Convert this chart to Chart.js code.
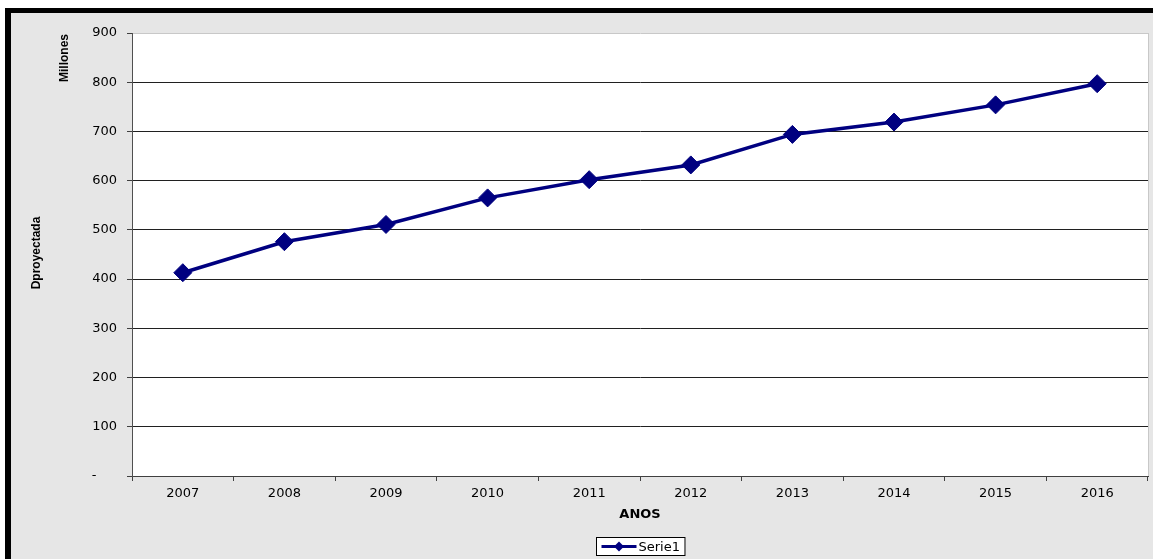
<!DOCTYPE html>
<html>
<head>
<meta charset="utf-8">
<script src="https://cdn.jsdelivr.net/npm/chart.js@4"></script>
<style>
  html, body { margin: 0; padding: 0; background: #fff; }
  #frame {
    position: absolute; left: 5px; top: 8px; right: 0; bottom: 0;
    border-left: 6px solid #000; border-top: 5px solid #000;
    background: #e6e6e6;
  }
  #wrap { position: absolute; left: 0; top: 0; width: 1153px; height: 559px; }
</style>
</head>
<body>
<div id="frame"></div>
<div id="wrap"><canvas id="chart" width="1153" height="559"></canvas></div>
<script>
const years = ["2007", "2008", "2009", "2010", "2011", "2012", "2013", "2014", "2015", "2016"];
const serie1 = [413, 476, 511, 565, 602, 632, 694, 719, 754, 797];
const seriesName = "Serie1";
const xTitle = "ANOS";
const yTitle = "Dproyectada";
const yUnit = "Millones";

const navy = "#000080";
const tickFont = { family: "DejaVu Sans", size: 13 };

// white plot area, rotated titles and the boxed legend
const extras = {
  id: "extras",
  beforeDraw(chart) {
    const { ctx, chartArea: a } = chart;
    ctx.save();
    ctx.fillStyle = "#fff";
    ctx.fillRect(a.left, a.top, a.right - a.left, a.bottom - a.top);
    ctx.strokeStyle = "#c8c8c8";
    ctx.lineWidth = 1;
    ctx.beginPath();
    ctx.moveTo(a.right + 0.5, a.top);
    ctx.lineTo(a.right + 0.5, a.bottom);
    ctx.stroke();
    ctx.restore();
  },
  afterDraw(chart) {
    const { ctx, chartArea: a } = chart;
    ctx.save();
    ctx.fillStyle = "#000";
    ctx.font = "bold 12px 'Liberation Sans'";
    ctx.textAlign = "center";
    ctx.textBaseline = "middle";
    ctx.translate(37, 253);
    ctx.rotate(-Math.PI / 2);
    ctx.fillText(yTitle, 0, 0);
    ctx.restore();

    ctx.save();
    ctx.fillStyle = "#000";
    ctx.font = "bold 12px 'Liberation Sans'";
    ctx.textAlign = "center";
    ctx.textBaseline = "middle";
    ctx.translate(65, 58);
    ctx.rotate(-Math.PI / 2);
    ctx.fillText(yUnit, 0, 0);
    ctx.restore();

    // legend
    const ds = chart.data.datasets[0];
    ctx.save();
    ctx.font = "13px 'DejaVu Sans'";
    const tw = ctx.measureText(ds.label).width;
    const bw = 5 + 35 + 3 + tw + 4;
    const bx = Math.round((a.left + a.right) / 2 - bw / 2) + 0.5;
    const by = 537.5, bh = 18;
    ctx.fillStyle = "#fff";
    ctx.fillRect(bx, by, bw, bh);
    ctx.strokeStyle = "#000";
    ctx.lineWidth = 1;
    ctx.strokeRect(bx, by, bw, bh);
    const cy = by + bh / 2;
    ctx.strokeStyle = ds.borderColor;
    ctx.lineWidth = 3;
    ctx.beginPath();
    ctx.moveTo(bx + 5, cy);
    ctx.lineTo(bx + 40, cy);
    ctx.stroke();
    ctx.fillStyle = ds.pointBackgroundColor;
    ctx.beginPath();
    const mx = bx + 22.5;
    ctx.moveTo(mx - 5, cy);
    ctx.lineTo(mx, cy - 5);
    ctx.lineTo(mx + 5, cy);
    ctx.lineTo(mx, cy + 5);
    ctx.closePath();
    ctx.fill();
    ctx.fillStyle = "#000";
    ctx.textAlign = "left";
    ctx.textBaseline = "middle";
    ctx.fillText(ds.label, bx + 42, cy + 1);
    ctx.restore();
  }
};

new Chart(document.getElementById("chart"), {
  type: "line",
  data: {
    labels: years,
    datasets: [
      {
        label: seriesName,
        data: serie1,
        borderColor: navy,
        backgroundColor: navy,
        borderWidth: 3.5,
        pointStyle: "rectRot",
        pointRadius: 9,
        pointHoverRadius: 9,
        pointBackgroundColor: navy,
        pointBorderColor: navy,
        pointBorderWidth: 1,
        tension: 0,
        fill: false,
      },
    ],
  },
  options: {
    responsive: false,
    animation: false,
    events: [],
    layout: { autoPadding: false, padding: { left: 0, top: 33, right: 5, bottom: 0 } },
    plugins: {
      legend: { display: false },
      tooltip: { enabled: false },
    },
    scales: {
      x: {
        offset: true,
        grid: {
          offset: true,
          drawOnChartArea: false,
          drawTicks: true,
          tickLength: 5,
          color: "#404040",
        },
        border: { color: "#404040", width: 1 },
        ticks: { color: "#000", font: tickFont, padding: 5, maxRotation: 0 },
        title: {
          display: true,
          text: xTitle,
          color: "#000",
          font: { family: "DejaVu Sans", size: 13, weight: "bold" },
          padding: { top: 4, bottom: 37 },
        },
        afterFit(scale) { scale.height = 83; },
      },
      y: {
        min: 0,
        max: 900,
        ticks: {
          stepSize: 100,
          color: "#000",
          font: tickFont,
          padding: 10,
          callback: (v) => (v === 0 ? "-     " : String(v)),
        },
        grid: {
          color: (c) => (c.tick && c.tick.value === 900 ? "#c8c8c8" : "#202020"),
          tickColor: "#404040",
          tickLength: 5,
          lineWidth: 1,
        },
        border: { color: "#505050", width: 1 },
        afterFit(scale) { scale.width = 132; },
      },
    },
  },
  plugins: [extras],
});
</script>
</body>
</html>
